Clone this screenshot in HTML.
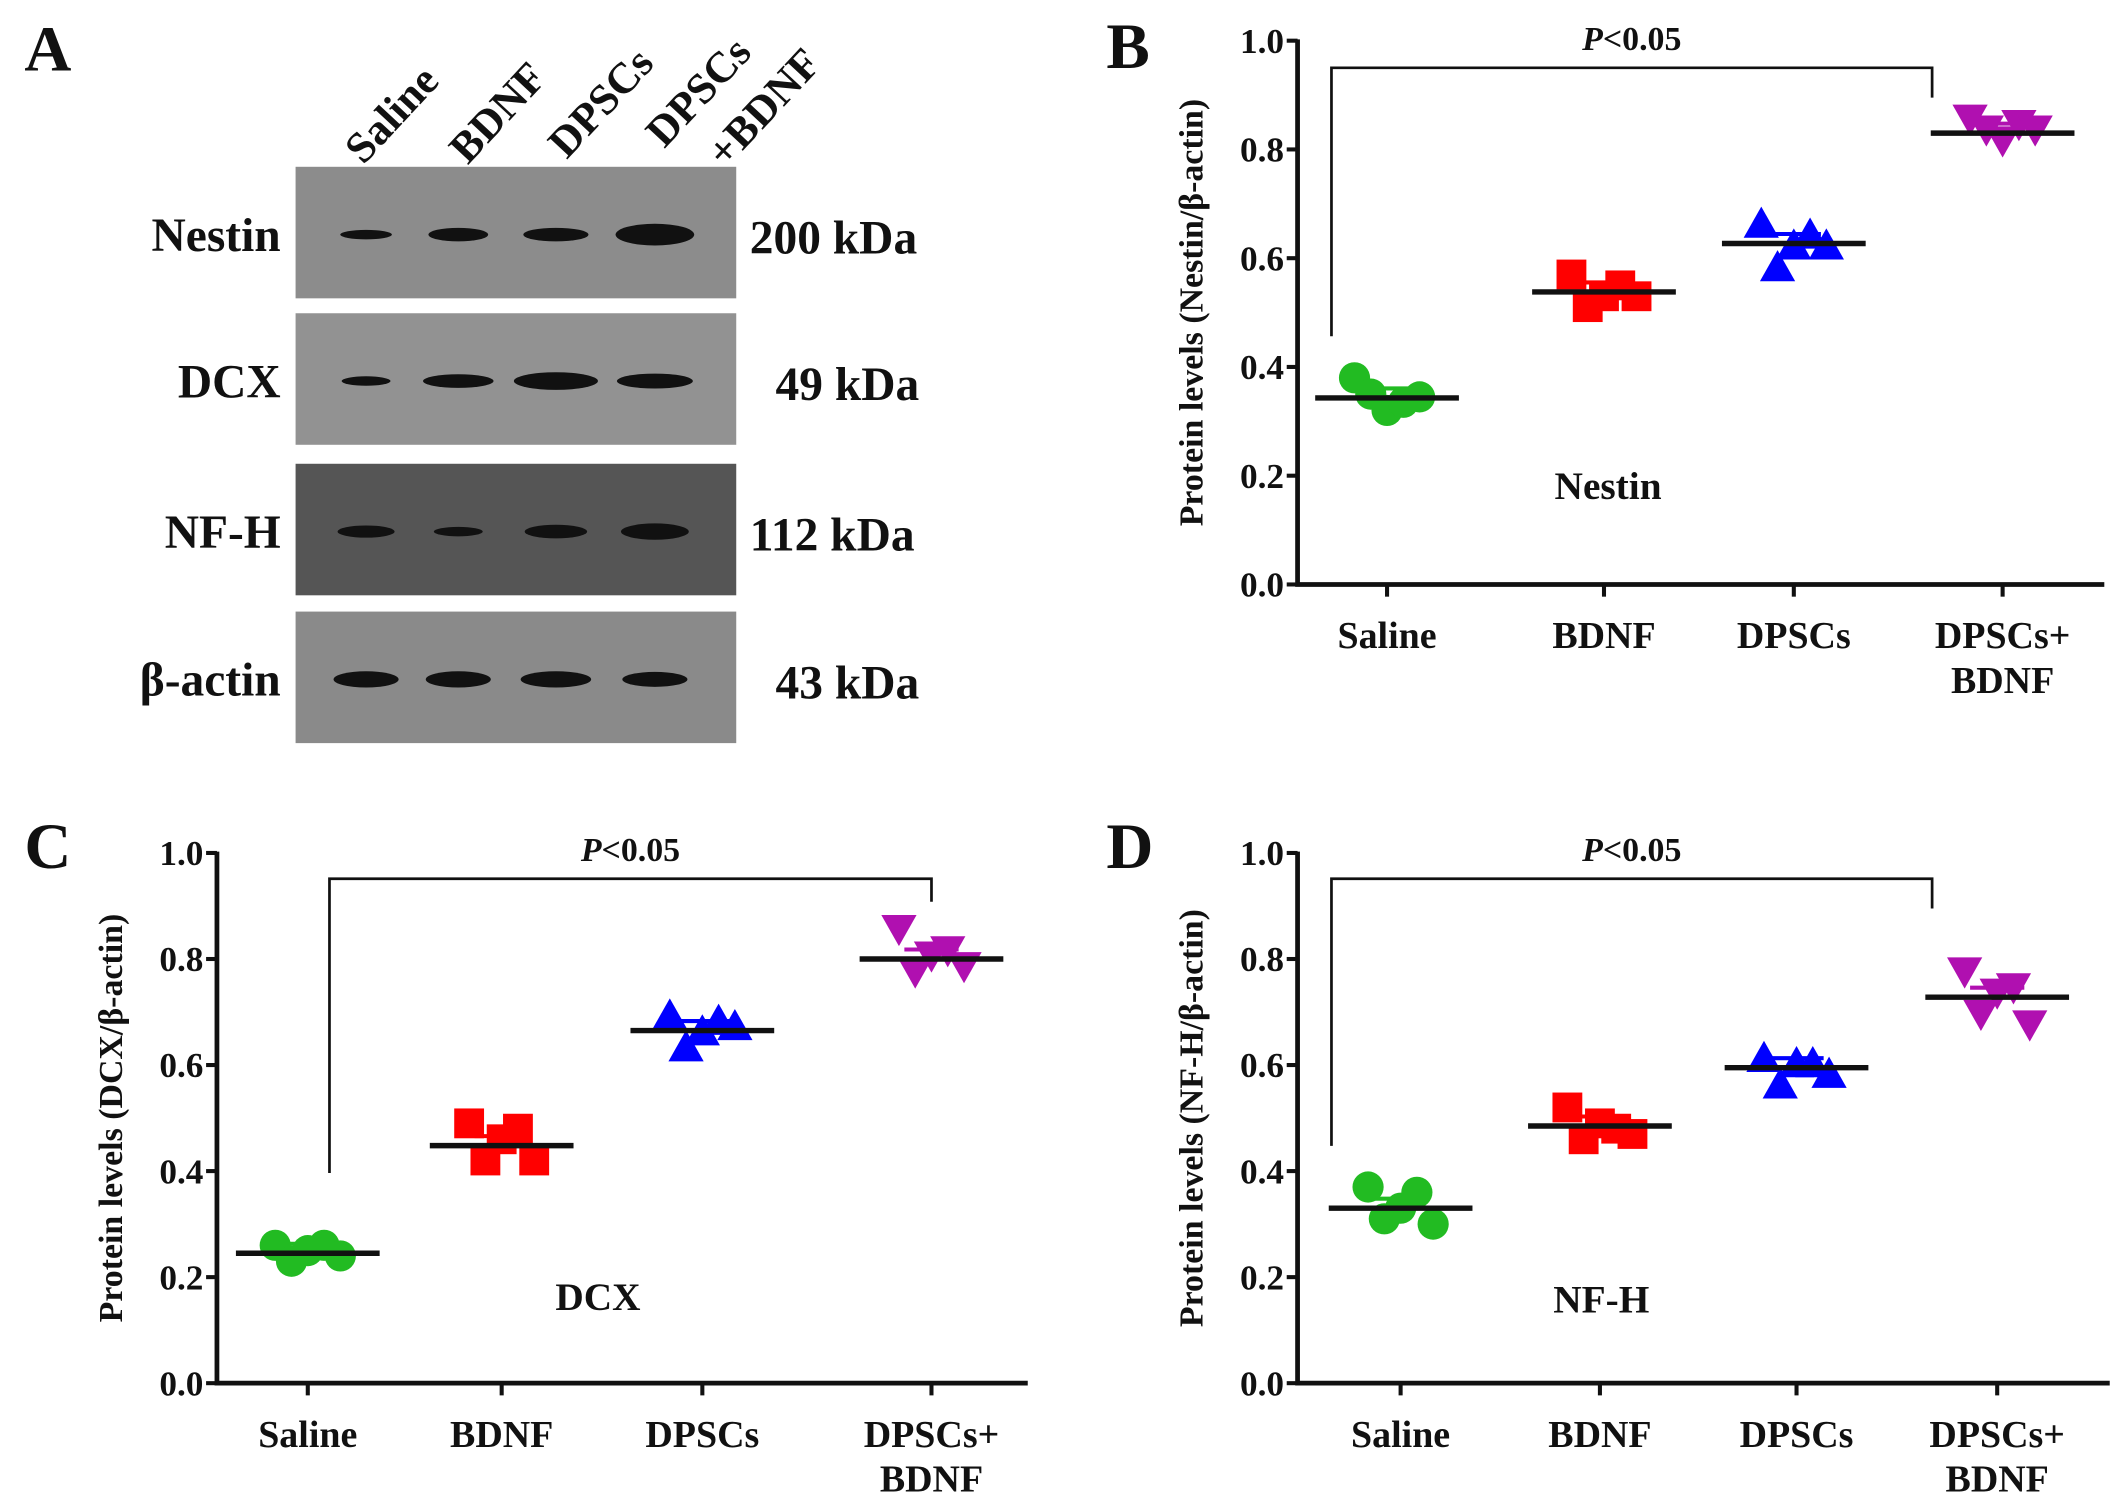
<!DOCTYPE html>
<html><head><meta charset="utf-8">
<style>
html,body{margin:0;padding:0;background:#fff;}
svg{display:block;}
text{font-family:"Liberation Serif",serif;font-weight:bold;fill:#111;}
</style></head>
<body>
<svg id="fig" width="2126" height="1512" viewBox="0 0 1568 1115" preserveAspectRatio="none" xmlns="http://www.w3.org/2000/svg">
<rect x="0" y="0" width="1568" height="1115" fill="#fff"/>
<g id="panelA">
  <text x="18" y="52" font-size="48">A</text>
  <text transform="translate(268,122) rotate(-47)" font-size="32">Saline</text>
  <text transform="translate(345,122) rotate(-47)" font-size="32">BDNF</text>
  <text transform="translate(418,118) rotate(-47)" font-size="32">DPSCs</text>
  <text transform="translate(490,110) rotate(-47)" font-size="32">DPSCs</text>
  <text transform="translate(535,125) rotate(-47)" font-size="32">+BDNF</text>
  <g id="blots"></g>
</g>
<g id="panelB"></g><g id="panelC"></g><g id="panelD"></g>
</svg>
<script>
// ---- blot data ----
const blotNames = ["Nestin","DCX","NF-H","β-actin"];
const blotKDa = ["200 kDa","49 kDa","112 kDa","43 kDa"];
const blotBandWidths = [[38,44,48,58],[36,52,62,56],[42,36,46,50],[48,48,52,48]];
const blotBandThickness = [[7,10,10,16],[7,10,13,11],[9,7,10,12],[12,12,12,11]];

// ---- chart data ----
const categories = ["Saline","BDNF","DPSCs","DPSCs+BDNF"];
const yTicks = [0,0.2,0.4,0.6,0.8,1.0];
const yTickLabels = ["0.0","0.2","0.4","0.6","0.8","1.0"];
const nestinMeans = [0.343,0.538,0.627,0.830];
const nestinPoints = [[0.38,0.35,0.32,0.335,0.345],[0.57,0.51,0.53,0.55,0.53],[0.66,0.58,0.62,0.64,0.62],[0.86,0.84,0.82,0.85,0.84]];
const dcxMeans = [0.245,0.448,0.665,0.800];
const dcxPoints = [[0.26,0.23,0.25,0.26,0.24],[0.49,0.42,0.46,0.48,0.42],[0.69,0.63,0.66,0.68,0.67],[0.86,0.78,0.81,0.82,0.79]];
const nfhMeans = [0.330,0.485,0.595,0.728];
const nfhPoints = [[0.37,0.31,0.33,0.36,0.30],[0.52,0.46,0.49,0.48,0.47],[0.61,0.56,0.60,0.60,0.58],[0.78,0.70,0.74,0.75,0.68]];

const NS="http://www.w3.org/2000/svg";
function mk(tag,attrs,parent){const e=document.createElementNS(NS,tag);for(const k in attrs)e.setAttribute(k,attrs[k]);parent.appendChild(e);return e;}

// blots
(function(){
  const g=document.getElementById('blots');
  const tops=[123,231,342,451];
  const bgs=["#8c8c8c","#929292","#555555","#8a8a8a"];
  const lanes=[270,338,410,483];
  blotNames.forEach((n,i)=>{
    const r=mk('rect',{x:218,y:tops[i],width:325,height:97,fill:bgs[i]},g);
    
    
    const t=mk('text',{x:207,y:tops[i]+62,'font-size':35,'text-anchor':'end'},g);
    t.textContent=n;
    
    
    const k=mk('text',{x:i%2?572:553,y:tops[i]+64,'font-size':35},g);
    k.textContent=blotKDa[i];
    
    
    lanes.forEach((lx,j)=>{
      const b=mk('ellipse',{cx:lx,cy:tops[i]+50,rx:blotBandWidths[i][j]/2,ry:blotBandThickness[i][j]/2,fill:"#111"},g);
      
      
    });
  });
})();

function panel(id,cfg){
  const g=document.getElementById(id);
  
  
  const y=v=>cfg.y0-(cfg.y0-cfg.y1)*v;
  const L=mk('text',{x:cfg.lx,y:cfg.ly,'font-size':48},g);L.textContent=cfg.letter;
  
  
  const ax=mk('path',{d:`M${cfg.ax} ${cfg.y1-1}V${cfg.y0}H${cfg.axEnd}`,stroke:'#111','stroke-width':3.5,fill:'none'},g);
  
  
  yTicks.forEach((v,i)=>{
    const tk=mk('line',{x1:cfg.ax-8,x2:cfg.ax,y1:y(v),y2:y(v),stroke:'#111','stroke-width':3},g);
    
    
    const t=mk('text',{x:cfg.ax-10,y:y(v)+9,'font-size':26,'text-anchor':'end'},g);t.textContent=yTickLabels[i];
    
    
  });
  const yt=mk('text',{transform:`translate(${cfg.ax-70},${(cfg.y0+cfg.y1)/2}) rotate(-90)`,'font-size':25,'text-anchor':'middle'},g);
  yt.textContent=cfg.ytitle;
  
  
  const colors=['#22bb22','#ff0000','#0000ff','#b010b0'];
  const offs=[-24,-12,0,12,24];
  categories.forEach((c,i)=>{
    const cx=cfg.cx[i];
    const tk=mk('line',{x1:cx,x2:cx,y1:cfg.y0,y2:cfg.y0+9,stroke:'#111','stroke-width':3},g);
    
    
    const lab=mk('text',{x:cx,y:cfg.y0+47,'font-size':28,'text-anchor':'middle'},g);
    
    
    if(c==="DPSCs+BDNF"){lab.textContent="DPSCs+";const l2=mk('text',{x:cx,y:cfg.y0+80,'font-size':28,'text-anchor':'middle'},g);l2.textContent="BDNF";
      
      }
    else lab.textContent=c;
    cfg.pts[i].forEach((v,j)=>{
      const px=cx+offs[j], py=y(v); let m;
      if(i===0) m=mk('circle',{cx:px,cy:py,r:11.5,fill:colors[i]},g);
      else if(i===1) m=mk('rect',{x:px-11,y:py-11,width:22,height:22,fill:colors[i]},g);
      else if(i===2) m=mk('path',{d:`M${px} ${py-14}L${px+13} ${py+9}L${px-13} ${py+9}Z`,fill:colors[i]},g);
      else m=mk('path',{d:`M${px} ${py+14}L${px+13} ${py-9}L${px-13} ${py-9}Z`,fill:colors[i]},g);
      
      
    });
    const mv=cfg.means[i];
    const cap=mk('line',{x1:cx-20,x2:cx+20,y1:y(mv)-7,y2:y(mv)-7,stroke:colors[i],'stroke-width':3},g);
    
    
    const ml=mk('line',{x1:cx-53,x2:cx+53,y1:y(mv),y2:y(mv),stroke:'#111','stroke-width':4},g);
    
    
  });
  const b=cfg.br;
  const br=mk('path',{d:`M${b.x1} ${b.l}V${b.y}H${b.x2}V${b.r}`,stroke:'#111','stroke-width':2,fill:'none'},g);
  
  
  const p=mk('text',{x:(b.x1+b.x2)/2,y:b.y-13,'font-size':25,'text-anchor':'middle'},g);
  p.innerHTML='<tspan font-style="italic">P</tspan>&lt;0.05';
  
  
  const nm=mk('text',{x:cfg.nx,y:cfg.ny,'font-size':29,'text-anchor':'middle'},g);nm.textContent=cfg.marker;
  
  
}
panel('panelB',{name:'nestin',letter:'B',lx:816,ly:50,ax:957,axEnd:1552,y0:431,y1:30,cx:[1023,1183,1323,1477],
  means:nestinMeans,pts:nestinPoints,ytitle:'Protein levels (Nestin/β-actin)',marker:'Nestin',nx:1186,ny:368,
  br:{x1:982,x2:1425,y:50,l:248,r:72}});
panel('panelC',{name:'dcx',letter:'C',lx:18,ly:640,ax:160,axEnd:758,y0:1020,y1:629,cx:[227,370,518,687],
  means:dcxMeans,pts:dcxPoints,ytitle:'Protein levels (DCX/β-actin)',marker:'DCX',nx:441,ny:966,
  br:{x1:243,x2:687,y:648,l:865,r:665}});
panel('panelD',{name:'nfh',letter:'D',lx:816,ly:640,ax:957,axEnd:1556,y0:1020,y1:629,cx:[1033,1180,1325,1473],
  means:nfhMeans,pts:nfhPoints,ytitle:'Protein levels (NF-H/β-actin)',marker:'NF-H',nx:1181,ny:968,
  br:{x1:982,x2:1425,y:648,l:845,r:670}});
</script>
</body></html>
